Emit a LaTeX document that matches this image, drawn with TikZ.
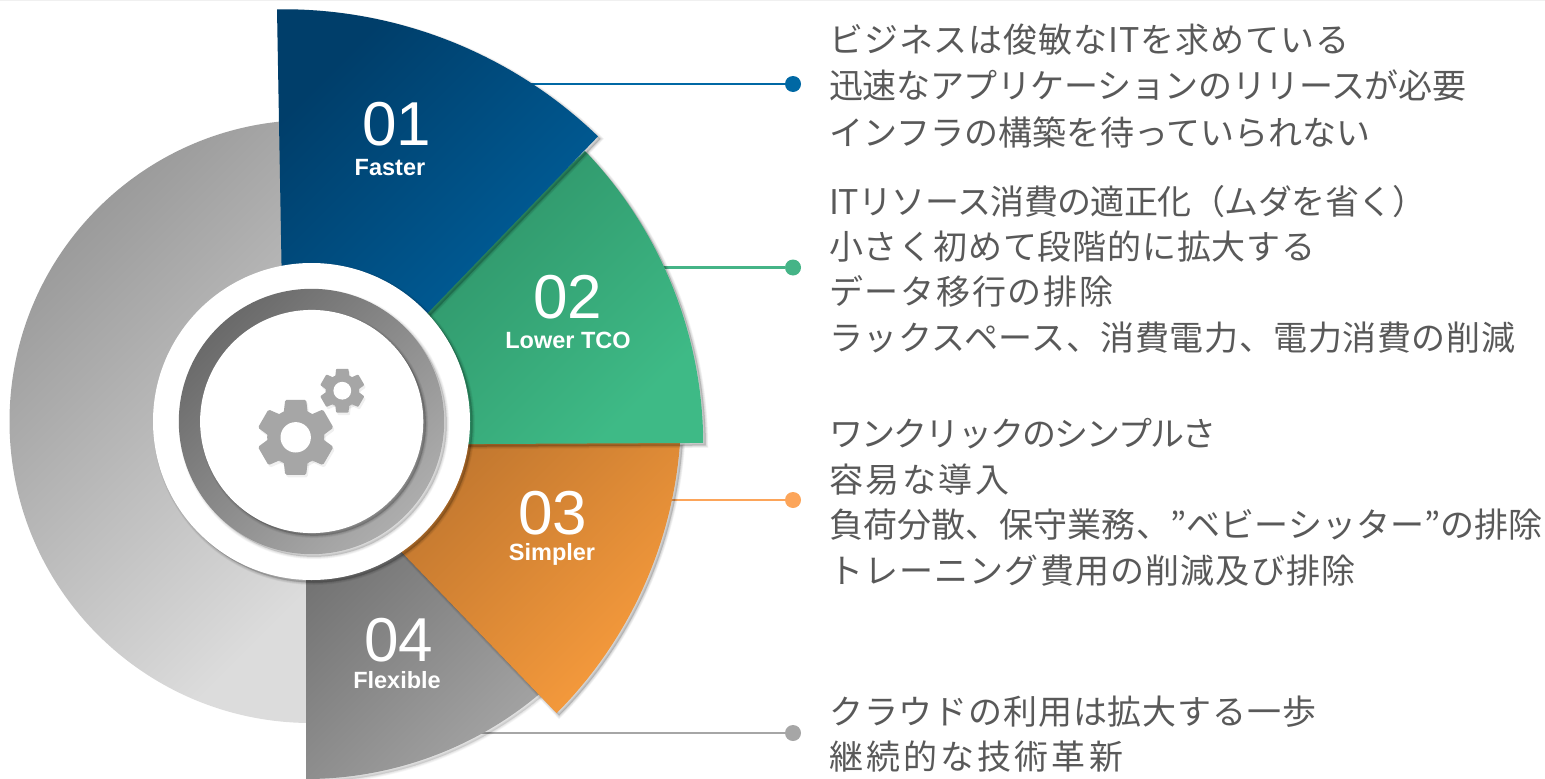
\documentclass[tikz,border=0pt]{standalone}
\usepackage{fontspec}
\setmainfont{Liberation Sans}
\newfontfamily\cjk{Noto Sans CJK JP}
\definecolor{txt}{HTML}{595959}
\definecolor{cblue}{HTML}{0068A4}
\definecolor{cgreen}{HTML}{45B487}
\definecolor{corange}{HTML}{FCA55A}
\definecolor{cgray}{HTML}{A6A6A6}
\definecolor{bigA}{HTML}{969696}
\definecolor{bigB}{HTML}{DCDCDC}
\definecolor{grA}{HTML}{686868}
\definecolor{grB}{HTML}{A2A2A2}
\definecolor{orA}{HTML}{AE6A2A}
\definecolor{orB}{HTML}{F59A3C}
\definecolor{gnA}{HTML}{2A8860}
\definecolor{gnB}{HTML}{3EBA86}
\definecolor{blA}{HTML}{003E6A}
\definecolor{blB}{HTML}{0068A8}
\definecolor{riA}{HTML}{6A6A6A}
\definecolor{riB}{HTML}{ADADAD}
\newcommand{\softshadow}[3][1]{%
  \foreach \w in {1,2,...,5}{%
    \fill[black,opacity=.035*#1,xshift=#2pt,yshift=-#2pt,draw=black,line width=\w pt] #3;}}
\newcommand{\gearbody}[2]{% scale, look
  \foreach \a in {30,90,...,330}{%
    \fill[#2,rotate=\a,rounded corners=#1*1.5pt]
      (#1*20pt,-#1*12.5pt) -- (#1*37.5pt,-#1*10.5pt) -- (#1*37.5pt,#1*10.5pt) -- (#1*20pt,#1*12.5pt) -- cycle;}
  \fill[#2] (0,0) circle[radius=#1*28.5pt];}
\newcommand{\gearshape}[3]{% cx cy scale
  \begin{scope}[shift={(#1+1.5,#2+2.5)}]
    \gearbody{#3}{black,opacity=.06}
  \end{scope}
  \begin{scope}[shift={(#1,#2)}]
    \gearbody{#3}{cgray}
    \fill[white] (0,0) circle[radius=#3*15.2pt];
  \end{scope}}
\tikzset{
  leader/.style={line width=2.2pt},
  dot/.style={circle,minimum size=16pt,inner sep=0pt},
  num/.style={text=white,font=\fontsize{62}{62}\selectfont,inner sep=0pt},
  lab/.style={text=white,font=\fontsize{23.5}{24}\selectfont\bfseries,inner sep=0pt},
  jp/.style={text=txt,anchor=base west,inner sep=0pt,font=\cjk\fontsize{34}{36}\selectfont\addfontfeature{LetterSpace=#1}},
  jp/.default=0,
  grad/.style 2 args={shade,shading=axis,top color=#1,bottom color=#2,shading angle=45},
}
\begin{document}
\begin{tikzpicture}[x=1pt,y=-1pt]
\useasboundingbox (0,0) rectangle (1545,779);
\fill[black!6] (0,0) rectangle (1545,1);

% connectors
\coordinate (s1) at (525,84);
\coordinate (s2) at (660,267.5);
\coordinate (s3) at (668,500);
\coordinate (s4) at (478,733);
\node[dot,fill=cblue] (d1) at (793,84) {};
\node[dot,fill=cgreen] (d2) at (793,267.5) {};
\node[dot,fill=corange] (d3) at (793,500) {};
\node[dot,fill=cgray] (d4) at (793,733) {};
\draw[leader,cblue] (s1) -- (d1);
\draw[leader,cgreen] (s2) -- (d2);
\draw[leader,corange] (s3) -- (d3);
\draw[leader,cgray] (s4) -- (d4);

% big grey half disc
\path[grad={bigA}{bigB}]
  (311,120) arc[start angle=90,end angle=270,radius=301.5pt] -- cycle;

% sector 04
\softshadow[.7]{2.5}{(306,779) arc[start angle=-90,end angle=-49,radius=363pt] -- (306,416) -- cycle}
\path[grad={grA}{grB}]
  (306,779) arc[start angle=-90,end angle=-49,radius=363pt] -- (306,416) -- cycle;

% sector 03
\softshadow{2.5}{(680,443) arc[start angle=-4.2,end angle=-44.9,radius=427pt] -- (260,405) -- cycle}
\path[grad={orA}{orB}]
  (680,443) arc[start angle=-4.2,end angle=-44.9,radius=427pt] -- (260,405) -- cycle;

% sector 02
\softshadow{2.5}{(585,151) arc[start angle=43.8,end angle=0.3,radius=425pt] -- (278,445) -- cycle}
\path[grad={gnA}{gnB}]
  (585,151) arc[start angle=43.8,end angle=0.3,radius=425pt] -- (278,445) -- cycle;

% sector 01
\softshadow{2.5}{(277,9.3) arc[start angle=90.8,end angle=46,radius=453pt] -- (285,461) -- cycle}
\path[grad={blA}{blB}]
  (277,9.3) arc[start angle=90.8,end angle=46,radius=453pt] -- (285,461) -- cycle;

% centre
\softshadow{2.5}{(311.5,421.5) circle[radius=158.5pt]}
\fill[white] (311.5,421.5) circle[radius=158.5pt];
\softshadow[.8]{2.5}{(311.5,421.5) circle[radius=132.7pt]}
\path[grad={riA}{riB}]
  (311.5,421.5) circle[radius=132.7pt];
\softshadow{2.5}{(311.7,421.5) circle[radius=111.6pt]}
\fill[white] (311.7,421.5) circle[radius=111.6pt];
\gearshape{295.7}{437.3}{1}
\gearshape{342.3}{390.7}{.585}

% sector labels
\node[num] (n1) at (397,124) {01};
\node[lab] (l1) at (390,168) {Faster};
\node[num] (n2) at (568,297) {02};
\node[lab] (l2) at (568,340) {Lower TCO};
\node[num] (n3) at (553,513) {03};
\node[lab] (l3) at (552,554) {Simpler};
\node[num] (n4) at (399,640) {04};
\node[lab] (l4) at (397,680) {Flexible};

% texts
\node[jp=2.7] (a1) at (829,52) {ビジネスは俊敏なITを求めている};
\node[jp=-1.1] (a2) at (829,98.5) {迅速なアプリケーションのリリースが必要};
\node[jp] (a3) at (829,145) {インフラの構築を待っていられない};
\node[jp=-1.6] (b1) at (829,214) {ITリソース消費の適正化（ムダを省く）};
\node[jp=2.3] (b2) at (829,259.5) {小さく初めて段階的に拡大する};
\node[jp=5] (b3) at (829,304.5) {データ移行の排除};
\node[jp=1.7] (b4) at (829,350) {ラックスペース、消費電力、電力消費の削減};
\node[jp=-5.3] (c1) at (829,446) {ワンクリックのシンプルさ};
\node[jp=7.4] (c2) at (829,492) {容易な導入};
\node[jp=.3] (c3) at (829,537) {負荷分散、保守業務、”ベビーシッター”の排除};
\node[jp=3.4] (c4) at (829,583) {トレーニング費用の削減及び排除};
\node[jp=2.5] (e1) at (829,724) {クラウドの利用は拡大する一歩};
\node[jp=9.2] (e2) at (829,769) {継続的な技術革新};
\end{tikzpicture}
\end{document}
